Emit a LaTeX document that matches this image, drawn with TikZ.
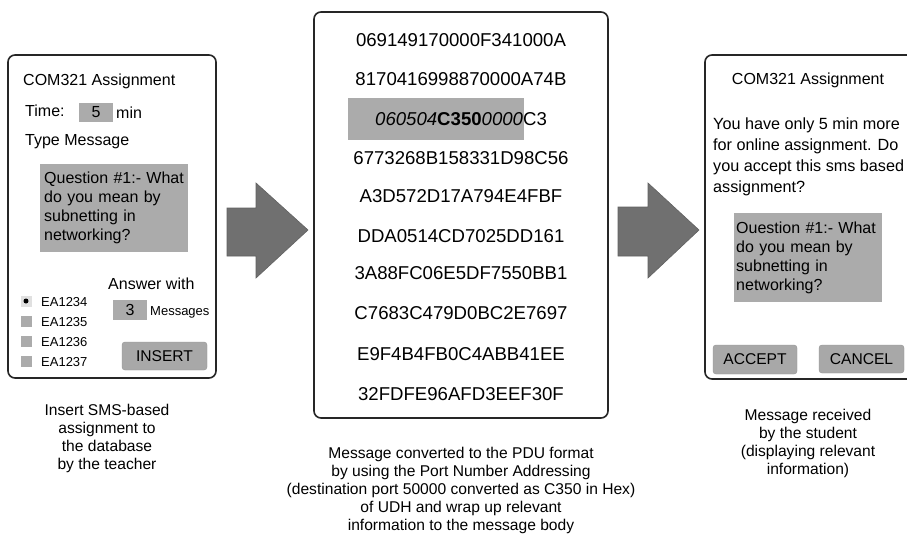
\documentclass[tikz,border=0pt]{standalone}
\usepackage{fontspec}
\setmainfont{Liberation Sans}
\usetikzlibrary{positioning}
\newcommand{\tam}[2]{\fontsize{#1pt}{#2pt}\selectfont}
\tikzstyle{screen} = [draw=black!85, line width=1.6pt, rounded corners=7pt, fill=white, inner sep=0pt]
\tikzstyle{field} = [fill=black!33, inner sep=0pt, font=\tam{16}{19}]
\tikzstyle{button} = [fill=black!34, draw=black!42, rounded corners=3pt, inner sep=0pt, font=\tam{15.6}{18}]
\tikzstyle{radio} = [fill=black!33, minimum size=11pt, inner sep=0pt]
\tikzstyle{txt} = [inner sep=0pt, font=\tam{16}{19}]
\tikzstyle{small} = [inner sep=0pt, font=\tam{13}{15}, anchor=base west]
\tikzstyle{hexline} = [inner sep=0pt, font=\tam{18.6}{22}, anchor=base]
\tikzstyle{caption} = [inner sep=0pt, align=center, anchor=north, font=\tam{15.6}{17.9}]
\tikzstyle{blockarrow} = [fill=black!56, draw=black!62, line width=0.6pt]

\begin{document}
\begin{tikzpicture}[x=1pt, y=-1pt]
	\useasboundingbox (0,0) rectangle (907,538);
	% teacher side
	\node[screen, minimum width=208pt, minimum height=323pt] (teacher) at (112,216.5) {};
	\node[txt, anchor=base west] (title1) at (23,85) {COM321 Assignment};
	\node[txt, anchor=base west] (time) at (25,116) {Time:};
	\node[field, minimum width=34pt, minimum height=19pt] (minutes) at (96,112.5) {5};
	\node[txt, anchor=base west] (min) at (116,118) {min};
	\node[txt, anchor=base west] (type) at (25,145) {Type Message};
	\node[field, anchor=north west, minimum width=148pt, minimum height=88pt, text width=140pt, inner xsep=4pt, align=left] (question1) at (40,164) {Question \#1:- What\\do you mean by\\subnetting in\\networking?};
	\node[txt, anchor=base west] (answer) at (108,289) {Answer with};
	\node[field, minimum width=34pt, minimum height=20pt] (count) at (130,310) {3};
	\node[small] (msgs) at (150,315) {Messages};
	\node[radio, fill=black!12] (r1) at (26,301) {};
	\fill (r1) circle (2.5pt);
	\node[radio] (r2) at (26,321) {};
	\node[radio] (r3) at (26,341) {};
	\node[radio] (r4) at (26,361) {};
	\node[small] (ea1) at (41,306) {EA1234};
	\node[small] (ea2) at (41,326) {EA1235};
	\node[small] (ea3) at (41,346) {EA1236};
	\node[small] (ea4) at (41,366) {EA1237};
	\node[button, minimum width=85pt, minimum height=28pt] (insert) at (164.5,356) {INSERT};
	\node[caption] (cap1) at (107,404) {Insert SMS-based\\assignment to\\the database\\by the teacher};

	\draw[blockarrow] (227,208) -- (256,208) -- (256,183) -- (308,230) -- (256,278) -- (256,256) -- (227,256) -- cycle;

	% PDU
	\node[screen, minimum width=294pt, minimum height=406pt] (pdu) at (461,215) {};
	\node[field, minimum width=176pt, minimum height=42pt] (udh) at (436,119) {};
	\node[hexline] (h1) at (461,46.7) {069149170000F341000A};
	\node[hexline] (h2) at (461,85.7) {8170416998870000A74B};
	\node[hexline] (h3) at (461,125.7) {{\itshape 060504}{\bfseries C350}{\itshape 0000}C3};
	\node[hexline] (h4) at (461,164.7) {6773268B158331D98C56};
	\node[hexline] (h5) at (461,202.7) {A3D572D17A794E4FBF};
	\node[hexline] (h6) at (461,242.7) {DDA0514CD7025DD161};
	\node[hexline] (h7) at (461,279.7) {3A88FC06E5DF7550BB1};
	\node[hexline] (h8) at (461,319.7) {C7683C479D0BC2E7697};
	\node[hexline] (h9) at (461,360.7) {E9F4B4FB0C4ABB41EE};
	\node[hexline] (h10) at (461,400.7) {32FDFE96AFD3EEF30F};
	\node[caption] (cap2) at (461,447) {Message converted to the PDU format\\by using the Port Number Addressing\\(destination port 50000 converted as C350 in Hex)\\of UDH and wrap up relevant\\information to the message body};

	\draw[blockarrow] (618,207) -- (648,207) -- (648,183) -- (699,230) -- (648,278) -- (648,256) -- (618,256) -- cycle;

	% student side
	\node[screen, minimum width=222pt, minimum height=324pt] (student) at (816,217) {};
	\node[txt, anchor=base] (title2) at (808,84) {COM321 Assignment};
	\node[txt, anchor=north west, align=left, font=\tam{16.2}{21}] (notice) at (713,118) {You have only 5 min more\\for online assignment. Do\\you accept this sms based\\assignment?};
	\node[field, anchor=north west, minimum width=148pt, minimum height=89pt, text width=144pt, inner xsep=2pt, align=left] (question2) at (734,213) {Ouestion \#1:- What\\do you mean by\\subnetting in\\networking?};
	\node[button, minimum width=84pt, minimum height=29pt] (accept) at (755,359.5) {ACCEPT};
	\node[button, minimum width=85pt, minimum height=28pt] (cancel) at (861.5,359) {CANCEL};
	\node[caption] (cap3) at (808,409) {Message received\\by the student\\(displaying relevant\\information)};
\end{tikzpicture}
\end{document}
